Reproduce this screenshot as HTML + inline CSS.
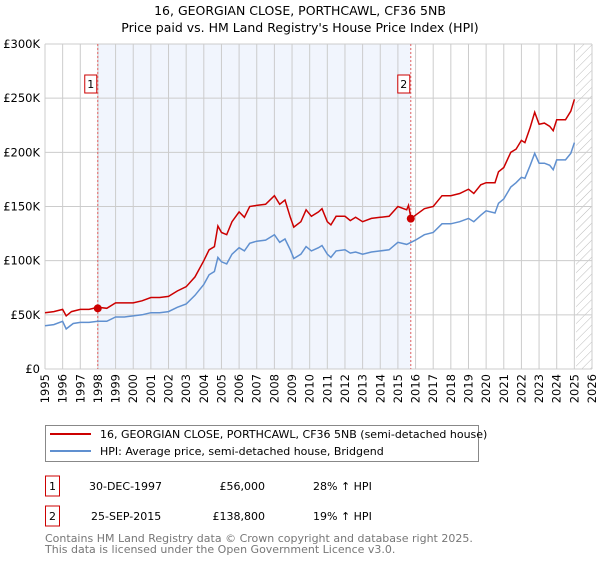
<!DOCTYPE html>
<html><head><meta charset="utf-8"><style>
body{margin:0;background:#fff;font-family:"Liberation Sans","DejaVu Sans",sans-serif}
svg text{font-family:"DejaVu Sans","Liberation Sans",sans-serif}
</style></head><body>
<svg id="c" width="600" height="560" xmlns="http://www.w3.org/2000/svg">
<defs><pattern id="hatch" width="6" height="6" patternUnits="userSpaceOnUse" patternTransform="rotate(45)"><line x1="0" y1="0" x2="0" y2="6" stroke="#bbb" stroke-width="1"/></pattern></defs>
<text x="300" y="15" text-anchor="middle" font-size="12.5">16, GEORGIAN CLOSE, PORTHCAWL, CF36 5NB</text>
<text x="300" y="32" text-anchor="middle" font-size="12.5">Price paid vs. HM Land Registry's House Price Index (HPI)</text>
<g id="plot"></g>
<rect x="45.5" y="425.5" width="433" height="36" fill="#fff" stroke="#888"/>
<line x1="50" y1="434" x2="91" y2="434" stroke="#cc0000" stroke-width="2"/>
<text x="100" y="438" font-size="11">16, GEORGIAN CLOSE, PORTHCAWL, CF36 5NB (semi-detached house)</text>
<line x1="50" y1="451" x2="91" y2="451" stroke="#6090d0" stroke-width="2"/>
<text x="100" y="455" font-size="11">HPI: Average price, semi-detached house, Bridgend</text>
<g>
<rect x="45.5" y="476" width="14" height="20" fill="none" stroke="#cc0000"/>
<text x="52.5" y="490" text-anchor="middle" font-size="11">1</text>
<text x="89" y="490" font-size="11">30-DEC-1997</text>
<text x="265" y="490" text-anchor="end" font-size="11">£56,000</text>
<text x="313" y="490" font-size="11">28% ↑ HPI</text></g>
<g>
<rect x="45.5" y="506" width="14" height="20" fill="none" stroke="#cc0000"/>
<text x="52.5" y="520" text-anchor="middle" font-size="11">2</text>
<text x="91" y="520" font-size="11">25-SEP-2015</text>
<text x="265" y="520" text-anchor="end" font-size="11">£138,800</text>
<text x="313" y="520" font-size="11">19% ↑ HPI</text></g>
<text x="45" y="542" font-size="11" fill="#777">Contains HM Land Registry data © Crown copyright and database right 2025.</text>
<text x="45" y="553" font-size="11" fill="#777">This data is licensed under the Open Government Licence v3.0.</text>
</svg>
<script>
const priceT=[1995,1995.5,1996,1996.2,1996.5,1997,1997.5,1998,1998.5,1999,1999.5,2000,2000.5,2001,2001.5,2002,2002.5,2003,2003.5,2004,2004.3,2004.6,2004.8,2005,2005.3,2005.6,2006,2006.3,2006.6,2007,2007.5,2008,2008.3,2008.6,2008.9,2009.1,2009.5,2009.8,2010.1,2010.5,2010.7,2011,2011.2,2011.5,2012,2012.3,2012.6,2013,2013.5,2014,2014.5,2015,2015.5,2015.6,2015.75,2016,2016.5,2017,2017.5,2018,2018.5,2019,2019.3,2019.7,2020,2020.5,2020.7,2021,2021.4,2021.7,2022,2022.2,2022.5,2022.75,2023,2023.3,2023.6,2023.8,2024,2024.5,2024.8,2025];
const priceV=[52,53,55,49,53,55,55,57,56,61,61,61,63,66,66,67,72,76,85,100,110,113,132,126,124,136,145,140,150,151,152,160,152,156,140,131,136,147,141,145,148,136,133,141,141,137,140,136,139,140,141,150,147,151,138.8,142,148,150,160,160,162,166,162,170,172,172,182,186,200,203,211,209,223,237,226,227,224,220,230,230,238,249];
const hpiT=[1995,1995.5,1996,1996.2,1996.6,1997,1997.5,1998,1998.5,1999,1999.5,2000,2000.5,2001,2001.5,2002,2002.5,2003,2003.5,2004,2004.3,2004.6,2004.8,2005,2005.3,2005.6,2006,2006.3,2006.6,2007,2007.5,2008,2008.3,2008.6,2008.9,2009.1,2009.5,2009.8,2010.1,2010.5,2010.7,2011,2011.2,2011.5,2012,2012.3,2012.6,2013,2013.5,2014,2014.5,2015,2015.5,2015.75,2016,2016.5,2017,2017.5,2018,2018.5,2019,2019.3,2019.7,2020,2020.5,2020.7,2021,2021.4,2021.7,2022,2022.2,2022.5,2022.75,2023,2023.3,2023.6,2023.8,2024,2024.5,2024.8,2025];
const hpiV=[40,41,44,37,42,43,43,44,44,48,48,49,50,52,52,53,57,60,68,78,87,90,103,99,97,106,112,109,116,118,119,124,117,120,110,102,106,113,109,112,114,106,103,109,110,107,108,106,108,109,110,117,115,117,119,124,126,134,134,136,139,136,142,146,144,153,157,168,172,177,176,188,199,190,190,188,184,193,193,199,209];
const yTicks=[0,50,100,150,200,250,300];
const yLabels=["£0","£50K","£100K","£150K","£200K","£250K","£300K"];
const years=[];for(let y=1995;y<=2026;y++)years.push(y);
const saleT=[1997.99,2015.73];
const saleV=[56,138.8];
const saleLabels=["1","2"];
const x0=45,x1=592,y0=369,y1=44;
const X=t=>x0+(t-1995)/(2026-1995)*(x1-x0);
const Y=v=>y0-v/300*(y0-y1);
const NS="http://www.w3.org/2000/svg";
const g=document.getElementById('plot');
function mk(tag,a){const e=document.createElementNS(NS,tag);for(const k in a)e.setAttribute(k,a[k]);g.appendChild(e);return e;}
let e=mk('rect',{x:X(saleT[0]),y:y1,width:X(saleT[1])-X(saleT[0]),height:y0-y1,fill:'#eef3fc',opacity:0.8});


e=mk('rect',{x:X(2025.1),y:y1,width:x1-X(2025.1),height:y0-y1,fill:'url(#hatch)'});


years.forEach(y=>{
 e=mk('line',{x1:X(y),x2:X(y),y1:y1,y2:y0,stroke:'#ccc','stroke-width':1});
 
 
 e=mk('text',{x:0,y:0,'font-size':11.5,'text-anchor':'end',transform:`translate(${X(y)+4},${y0+5}) rotate(-90)`});
 e.textContent=y;
 
 
});
yTicks.forEach((v,i)=>{
 e=mk('line',{x1:x0,x2:x1,y1:Y(v),y2:Y(v),stroke:'#ccc','stroke-width':1});
 
 
 e=mk('text',{x:40,y:Y(v)+4,'font-size':11.5,'text-anchor':'end'});
 e.textContent=yLabels[i];
 
 
});
saleT.forEach((t,i)=>{
 e=mk('line',{x1:X(t),x2:X(t),y1:y1,y2:y0,stroke:'#e06060','stroke-dasharray':'2,2','stroke-width':1});
 
 
 e=mk('rect',{x:X(t)-13,y:y1+31,width:12,height:18,fill:'#fff',stroke:'#cc0000'});
 
 
 e=mk('text',{x:X(t)-7,y:y1+44,'font-size':11,'text-anchor':'middle'});
 e.textContent=saleLabels[i];
 
 
});
const pts=(T,V)=>T.map((t,i)=>X(t).toFixed(1)+','+Y(V[i]).toFixed(1)).join(' ');
e=mk('polyline',{points:pts(hpiT,hpiV),fill:'none',stroke:'#6090d0','stroke-width':1.5});


e=mk('polyline',{points:pts(priceT,priceV),fill:'none',stroke:'#cc0000','stroke-width':1.5});


saleT.forEach((t,i)=>{
 e=mk('circle',{cx:X(t),cy:Y(saleV[i]),r:4,fill:'#cc0000'});
 
 
});
</script>
</body></html>
